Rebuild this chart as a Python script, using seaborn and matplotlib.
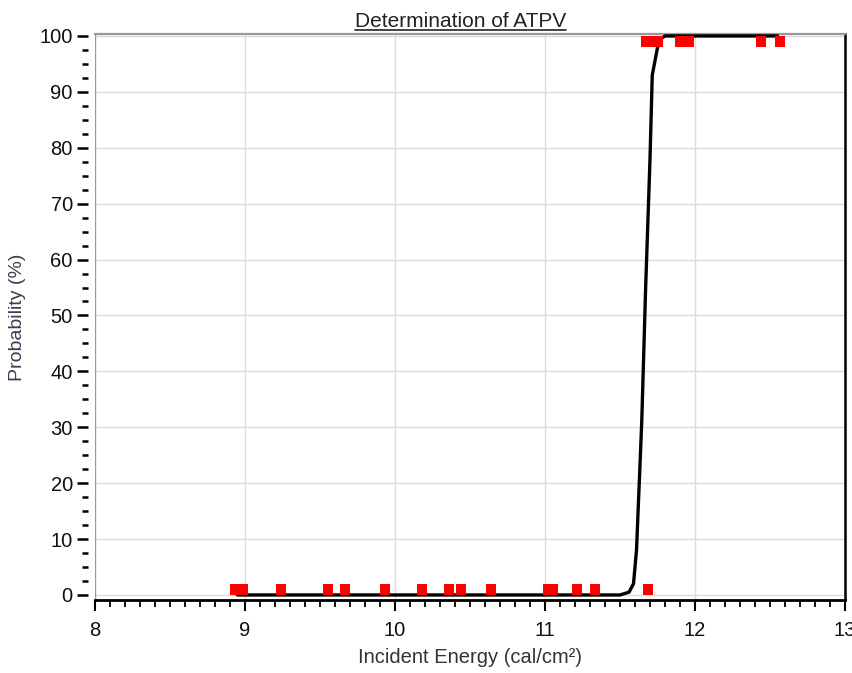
import matplotlib
matplotlib.use("Agg")
import matplotlib.pyplot as plt
from matplotlib.ticker import MultipleLocator
from matplotlib.lines import Line2D
import seaborn as sns
import pandas as pd

# ---- data ----
low_energy = [8.933, 8.987, 9.24, 9.555, 9.667, 9.933, 10.178, 10.362, 10.44,
              10.64, 11.022, 11.055, 11.215, 11.333, 11.687]
low_prob = [1] * len(low_energy)
high_energy = [11.673, 11.713, 11.753, 11.90, 11.96, 12.44, 12.567]
high_prob = [99] * len(high_energy)

curve_energy = [8.95, 11.50, 11.56, 11.59, 11.61, 11.645, 11.671, 11.70,
                11.715, 11.76, 11.80, 12.55]
curve_prob = [0, 0, 0.5, 2, 8, 31, 55, 78, 93, 99.3, 100, 100]

x_ticks = [8, 9, 10, 11, 12, 13]
y_ticks = [0, 10, 20, 30, 40, 50, 60, 70, 80, 90, 100]

title = "Determination of ATPV"
xlabel = "Incident Energy (cal/cm²)"
ylabel = "Probability (%)"

pts = pd.DataFrame({"energy": low_energy + high_energy,
                    "prob": low_prob + high_prob})
curve = pd.DataFrame({"energy": curve_energy, "prob": curve_prob})

sns.set_style("white")
plt.rcParams["font.family"] = ["Liberation Sans", "DejaVu Sans"]

W, H = 852, 673
fig = plt.figure(figsize=(W / 100, H / 100), dpi=100)
L, R, T, B = 95, 845, 34, 600
ax = fig.add_axes([L / W, 1 - B / H, (R - L) / W, (B - T) / H])

sns.lineplot(data=curve, x="energy", y="prob", ax=ax, color="black",
             linewidth=2.4, zorder=3, estimator=None, sort=False)
sns.scatterplot(data=pts, x="energy", y="prob", ax=ax, marker="s", s=56,
                color="#ff0000", edgecolor="none", linewidth=0, zorder=4)

ax.set_xlim(8, 13)
ax.set_ylim(-0.9, 100.35)
ax.set_xticks(x_ticks)
ax.set_yticks(y_ticks)
ax.xaxis.set_minor_locator(MultipleLocator(0.1))
ax.yaxis.set_minor_locator(MultipleLocator(2.5))

ax.grid(True, which="major", color="#dcdcdc", linewidth=1.0)
ax.set_axisbelow(True)

# spines
ax.spines["bottom"].set_color("black")
ax.spines["bottom"].set_linewidth(2)
ax.spines["top"].set_color("#999999")
ax.spines["top"].set_linewidth(1.6)
ax.spines["right"].set_color("black")
ax.spines["right"].set_linewidth(1.8)
ax.spines["left"].set_position(("outward", 5))
ax.spines["left"].set_visible(False)
ax.axvline(8, color="#999999", linewidth=1.6, zorder=2)

ax.tick_params(axis="x", which="major", direction="out", length=8, width=1.5,
               color="black", pad=7, labelsize=14.5, labelcolor="#111111",
               bottom=True)
ax.tick_params(axis="x", which="minor", direction="out", length=5, width=1.3,
               color="black", bottom=True)
ax.tick_params(axis="y", which="major", direction="out", length=8, width=1.8,
               color="black", pad=3, labelsize=14.5, labelcolor="#111111",
               left=True)
ax.tick_params(axis="y", which="minor", direction="out", length=4.5, width=1.8,
               color="black", left=True)

ax.set_xlabel(xlabel, fontsize=14.5, color="#333333", labelpad=6)
ax.set_ylabel(ylabel, fontsize=14, color="#3a3f4f", labelpad=10)

t = fig.text(460.5 / W, 1 - 27 / H, title, ha="center", va="baseline",
             fontsize=15, color="#222222")
fig.canvas.draw()
bb = t.get_window_extent()
y_ul = (bb.y0 + 0.5) / H
fig.add_artist(Line2D([bb.x0 / W, bb.x1 / W], [1 - 30 / H, 1 - 30 / H],
                      color="#222222", linewidth=1.2))

fig.savefig("out.png", dpi=100)
